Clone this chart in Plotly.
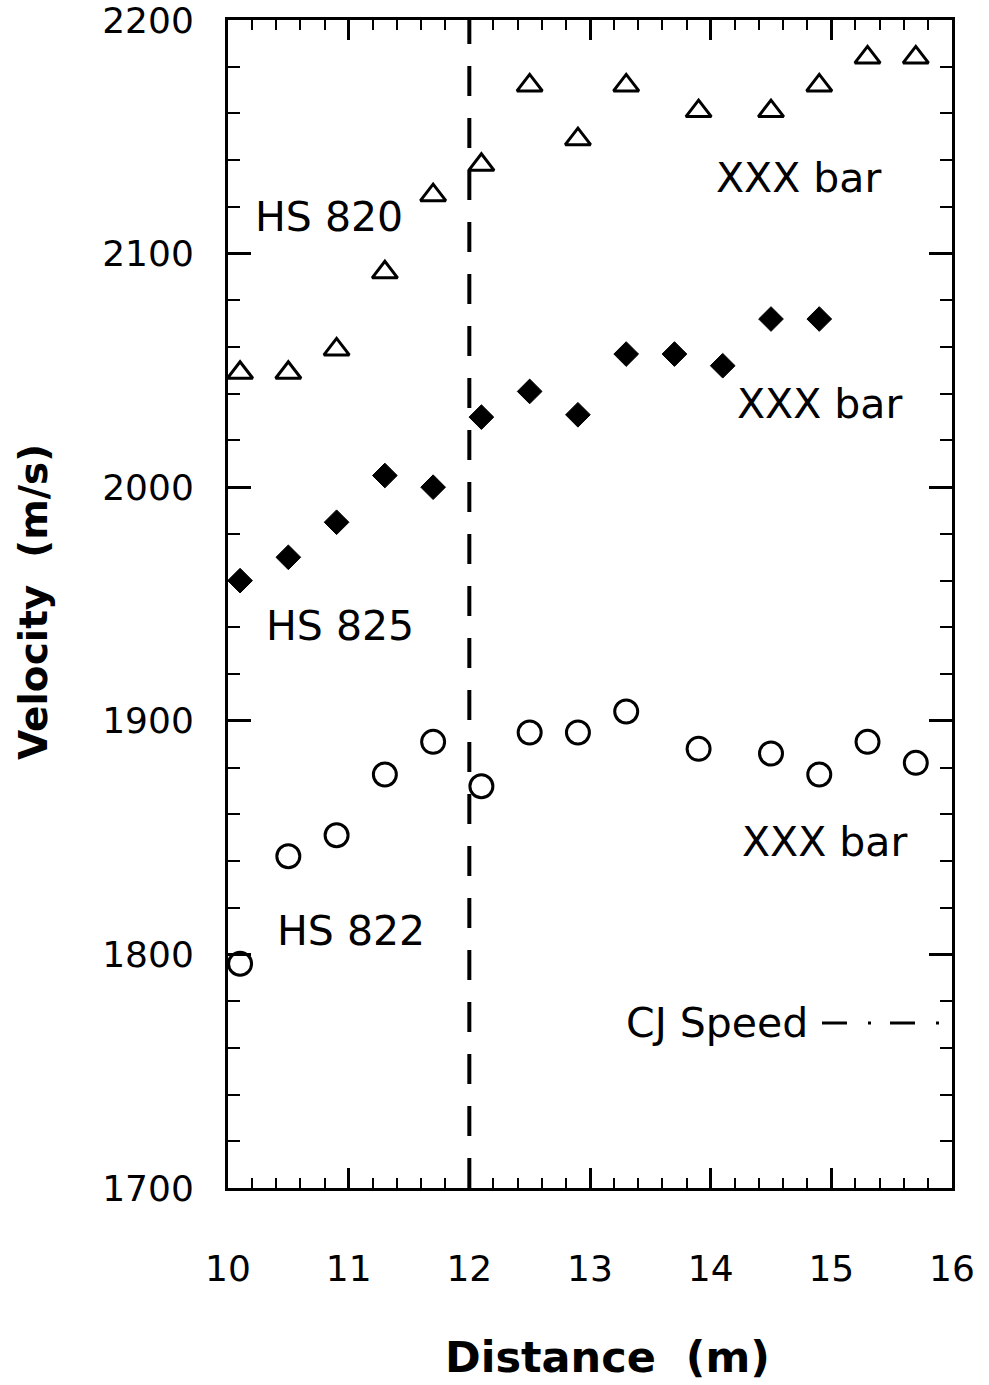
import plotly.graph_objects as go

# ---- data ----
x_hs820 = [10.1, 10.5, 10.9, 11.3, 11.7, 12.1, 12.5, 12.9, 13.3, 13.9, 14.5, 14.9, 15.3, 15.7]
v_hs820 = [2049, 2049, 2059, 2092, 2125, 2138, 2172, 2149, 2172, 2161, 2161, 2172, 2184, 2184]

x_hs825 = [10.1, 10.5, 10.9, 11.3, 11.7, 12.1, 12.5, 12.9, 13.3, 13.7, 14.1, 14.5, 14.9]
v_hs825 = [1960, 1970, 1985, 2005, 2000, 2030, 2041, 2031, 2057, 2057, 2052, 2072, 2072]

x_hs822 = [10.1, 10.5, 10.9, 11.3, 11.7, 12.1, 12.5, 12.9, 13.3, 13.9, 14.5, 14.9, 15.3, 15.7]
v_hs822 = [1796, 1842, 1851, 1877, 1891, 1872, 1895, 1895, 1904, 1888, 1886, 1877, 1891, 1882]

boundary_x = 12

x_range = [10, 16]
y_range = [1700, 2200]

labels = [
    # text, x, y
    ("HS 820", 10.84, 2115.5),
    ("XXX bar", 14.73, 2132.5),
    ("XXX bar", 14.90, 2035.5),
    ("HS 825", 10.93, 1940.5),
    ("XXX bar", 14.94, 1848),
    ("HS 822", 11.02, 1810),
    ("CJ Speed", 14.05, 1770.5),
]

FONT = "DejaVu Sans"

# page-pixel geometry of the plotting frame in the reference
PX_L, PX_R, PX_T, PX_B = 228, 952, 20, 1188
FIG_W, FIG_H = 989, 1385
PW, PH = PX_R - PX_L, PX_B - PX_T

fig = go.Figure()

fig.add_trace(go.Scatter(
    x=x_hs820, y=v_hs820, mode="markers", name="HS 820",
    marker=dict(symbol="triangle-up-open", size=22, color="black",
                line=dict(width=3, color="black")),
))
fig.add_trace(go.Scatter(
    x=x_hs825, y=v_hs825, mode="markers", name="HS 825",
    marker=dict(symbol="diamond", size=19, color="black",
                line=dict(width=1, color="black")),
))
fig.add_trace(go.Scatter(
    x=x_hs822, y=v_hs822, mode="markers", name="HS 822",
    marker=dict(symbol="circle-open", size=23, color="black",
                line=dict(width=3, color="black")),
))

fig.add_vline(x=boundary_x, line=dict(color="black", width=4, dash="30px,22px"))

# CJ Speed legend sample line (dash-dot)
fig.add_shape(type="line", xref="paper", yref="paper",
              x0=(822 - PX_L) / PW, x1=(940 - PX_L) / PW,
              y0=(PX_B - 1023) / PH, y1=(PX_B - 1023) / PH,
              line=dict(color="black", width=3, dash="25px,21px,3px,19px"))

for text, x, y in labels:
    fig.add_annotation(x=x, y=y, text=text, showarrow=False,
                       font=dict(family=FONT, size=41, color="black"),
                       xanchor="center", yanchor="middle")

# axis titles
fig.add_annotation(text="<b>Distance  (m)</b>", xref="paper", yref="paper",
                   x=(607 - PX_L) / PW, y=-(1357 - PX_B) / PH,
                   showarrow=False, xanchor="center", yanchor="middle",
                   font=dict(family=FONT, size=43, color="black"))
fig.add_annotation(text="<b>Velocity  (m/s)</b>", xref="paper", yref="paper",
                   x=-(PX_L - 33) / PW, y=(PX_B - 602) / PH, textangle=-90,
                   showarrow=False, xanchor="center", yanchor="middle",
                   font=dict(family=FONT, size=39, color="black"))

axis_common = dict(
    showline=True, linecolor="black", linewidth=3, mirror="allticks",
    ticks="inside", tickcolor="black", showgrid=False, zeroline=False,
    automargin=False, ticklabeloverflow="allow",
    tickfont=dict(family=FONT, size=36, color="black"),
)

fig.update_xaxes(range=x_range, dtick=1, tick0=10, ticklen=20, tickwidth=3,
                 ticklabelstandoff=47,
                 minor=dict(dtick=0.2, ticklen=10, tickwidth=2, ticks="inside",
                            tickcolor="black", showgrid=False),
                 **axis_common)
fig.update_yaxes(range=y_range, dtick=100, tick0=1700, ticklen=23, tickwidth=3,
                 ticklabelstandoff=24,
                 minor=dict(dtick=20, ticklen=12, tickwidth=2, ticks="inside",
                            tickcolor="black", showgrid=False),
                 **axis_common)

fig.update_layout(
    width=FIG_W, height=FIG_H,
    margin=dict(l=PX_L, r=FIG_W - PX_R, t=PX_T, b=FIG_H - PX_B, autoexpand=False),
    paper_bgcolor="white", plot_bgcolor="white",
    showlegend=False,
)

fig.write_html("out.html",
               config={"displayModeBar": False},
               post_script="document.body.style.margin='0';document.body.style.overflow='hidden';")
